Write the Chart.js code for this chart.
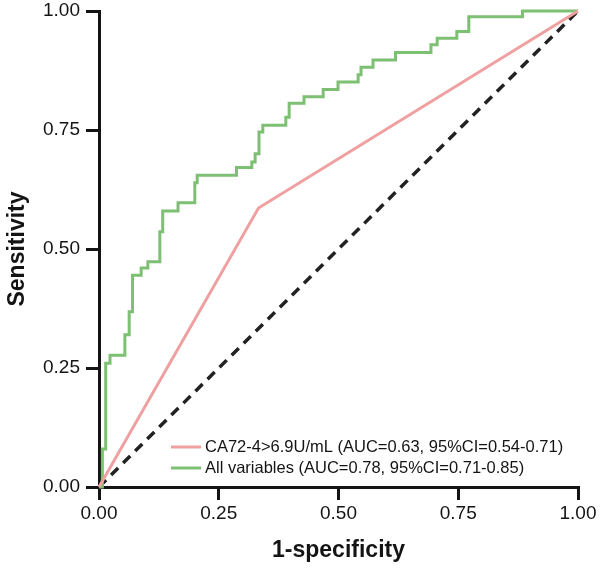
<!DOCTYPE html>
<html>
<head>
  <title>ROC</title>
  <script src="https://cdn.jsdelivr.net/npm/chart.js"></script>
  <style>
    body { margin: 0; background: #fff; }
  </style>
</head>
<body>
  <canvas id="roc-chart" width="600" height="569"></canvas>

  <script>
    // ROC data
    var redFpr = [0, 0.333, 1];
    var redTpr = [0, 0.586, 1];

    var greenFpr = [0, 0.007, 0.014, 0.023, 0.054, 0.063, 0.070, 0.088, 0.102, 0.127, 0.133,
      0.165, 0.200, 0.205, 0.287, 0.319, 0.326, 0.334, 0.342, 0.390, 0.397, 0.428, 0.468,
      0.499, 0.541, 0.547, 0.572, 0.619, 0.693, 0.706, 0.747, 0.772, 0.884, 1.0];
    var greenTpr = [0, 0.08, 0.26, 0.277, 0.32, 0.368, 0.445, 0.46, 0.473, 0.536, 0.58,
      0.597, 0.639, 0.655, 0.671, 0.683, 0.70, 0.746, 0.76, 0.777, 0.806, 0.82, 0.835,
      0.851, 0.866, 0.882, 0.897, 0.913, 0.929, 0.943, 0.957, 0.988, 1.0, 1.0];

    var refLine = [0, 1];
    var tickValues = [0, 0.25, 0.5, 0.75, 1];

    var legendLabels = [
      'CA72-4>6.9U/mL (AUC=0.63, 95%CI=0.54-0.71)',
      'All variables (AUC=0.78, 95%CI=0.71-0.85)'
    ];

    var red = 'rgb(240,160,160)';
    var green = 'rgb(125,192,115)';
    var ink = '#141414';
    var fontFam = '"Liberation Sans", Arial, sans-serif';

    function toPoints(xs, ys) {
      return xs.map(function (x, i) { return { x: x, y: ys[i] }; });
    }

    // legend drawn inside the plot, bottom right
    var insideLegend = {
      id: 'insideLegend',
      afterDraw: function (chart) {
        var ctx = chart.ctx;
        var colors = [red, green];
        ctx.save();
        ctx.font = '16.5px ' + fontFam;
        ctx.textBaseline = 'middle';
        ctx.fillStyle = ink;
        for (var i = 0; i < legendLabels.length; i++) {
          var y = 447 + i * 21;
          ctx.strokeStyle = colors[i];
          ctx.lineWidth = 3;
          ctx.beginPath();
          ctx.moveTo(171, y);
          ctx.lineTo(201, y);
          ctx.stroke();
          ctx.fillText(legendLabels[i], 205, y);
        }
        ctx.restore();
      }
    };

    function axisOpts(title, fitFn, titlePad, tickPad) {
      return {
        type: 'linear',
        min: 0,
        max: 1,
        afterBuildTicks: function (axis) {
          axis.ticks = tickValues.map(function (v) { return { value: v }; });
        },
        afterFit: fitFn,
        grid: {
          drawOnChartArea: false,
          color: ink,
          lineWidth: 3,
          tickLength: 13
        },
        border: { color: ink, width: 3 },
        ticks: {
          color: ink,
          padding: tickPad,
          font: { family: fontFam, size: 19 },
          callback: function (v) { return v.toFixed(2); }
        },
        title: {
          display: true,
          text: title,
          color: ink,
          font: { family: fontFam, size: 23, weight: 'bold' },
          padding: titlePad
        }
      };
    }

    var config = {
      type: 'scatter',
      data: {
        datasets: [{
          data: toPoints(redFpr, redTpr),
          showLine: true,
          borderColor: red,
          borderWidth: 3,
          pointRadius: 0,
          clip: false
        }, {
          data: toPoints(greenFpr, greenTpr),
          showLine: true,
          stepped: 'before',
          borderColor: green,
          borderWidth: 3,
          pointRadius: 0,
          clip: false
        }, {
          data: toPoints(refLine, refLine),
          showLine: true,
          borderColor: '#222',
          borderWidth: 3.5,
          borderDash: [10, 7],
          pointRadius: 0,
          clip: false
        }]
      },
      options: {
        responsive: false,
        animation: false,
        layout: { padding: { top: 11, right: 22, left: 0, bottom: 0 } },
        plugins: {
          legend: { display: false },
          tooltip: { enabled: false }
        },
        scales: {
          x: axisOpts('1-specificity', function (axis) {
            axis.height = 82;
            axis.paddingLeft = 0;
            axis.paddingRight = 0;
          }, { top: 0, bottom: 5 }, 2),
          y: axisOpts('Sensitivity', function (axis) {
            axis.width = 99;
            axis.paddingTop = 0;
            axis.paddingBottom = 0;
          }, { top: 4, bottom: 0 }, 6)
        }
      },
      plugins: [insideLegend]
    };

    var ctx = document.getElementById('roc-chart').getContext('2d');
    var chart = new Chart(ctx, config);
  </script>
</body>
</html>
